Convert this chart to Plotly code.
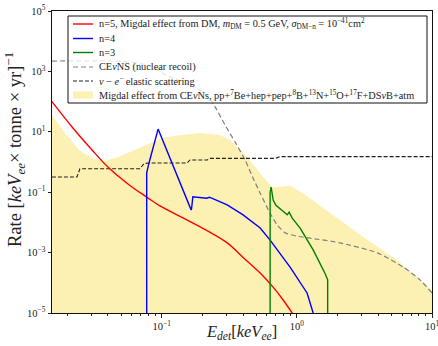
import plotly.graph_objects as go

# ---------------- data ----------------
# n=5 Migdal effect from DM (red)
red_E = [0.0154, 0.0217, 0.0305, 0.0407, 0.0575, 0.0774, 0.097, 0.1705, 0.305, 0.40, 0.535, 0.667, 0.792, 0.923, 1.05]
red_R = [1.0e2, 1.45e1, 2.5, 0.63, 0.174, 0.069, 0.035, 9.5e-3, 2.1e-3, 6.9e-4, 2.1e-4, 7.2e-5, 2.7e-5, 1.0e-5, 4.0e-6]

# n=4 (blue)
blue_E = [0.0774, 0.0774, 0.0805, 0.094, 0.165, 0.1662, 0.170, 0.215, 0.225, 0.232, 0.305, 0.40, 0.535, 0.634, 0.891, 1.19, 1.32, 1.40]
blue_R = [1e-7, 0.44, 0.93, 12.3, 0.026, 0.028, 0.071, 0.063, 0.068, 0.065, 0.038, 0.0178, 6.5e-3, 2.6e-3, 3.3e-4, 4.6e-5, 1.0e-5, 3.0e-6]

# n=3 (green)
green_E = [0.634, 0.634, 0.645, 0.668, 0.70, 0.77, 0.849, 0.877, 0.924, 1.057, 1.32, 1.62, 1.69, 1.69]
green_R = [1e-7, 0.10, 0.148, 0.055, 0.037, 0.026, 0.0178, 0.0219, 0.0138, 6.5e-3, 1.23e-3, 2.0e-4, 1.26e-4, 1e-7]

# CEvNS nuclear recoil (grey dashed)
cevns_E = [0.0154, 0.05, 0.08, 0.11, 0.15, 0.185, 0.217, 0.25, 0.294, 0.35, 0.414, 0.47, 0.535, 0.634, 0.72, 0.82, 1.0, 1.26, 2.09, 3.94, 6.13, 8.19, 10.0]
cevns_R = [2.2e3, 2.15e3, 1.6e3, 7.1e2, 4.2e2, 2.6e2, 1.6e2, 63.0, 16.8, 4.5, 1.16, 0.32, 0.093, 0.020, 7.9e-3, 4.5e-3, 3.5e-3, 3.0e-3, 2.1e-3, 9.8e-4, 3.3e-4, 1.23e-4, 4.6e-5]

# nu - e elastic scattering (black dashed)
nue_E = [0.0154, 0.0236, 0.0248, 0.069, 0.074, 0.082, 0.154, 0.162, 0.217, 0.228, 0.692, 0.752, 10.0]
nue_R = [0.32, 0.32, 0.60, 0.60, 0.89, 0.93, 0.93, 1.17, 1.17, 1.32, 1.32, 1.51, 1.51]

# Migdal effect from CEvNS (yellow band)
migdal_E = [0.0154, 0.0192, 0.0244, 0.0305, 0.038, 0.0483, 0.068, 0.0848, 0.10, 0.13, 0.192, 0.27, 0.321, 0.428, 0.562, 0.656, 0.714, 0.891, 1.11, 1.77, 3.10, 5.53, 10.0]
migdal_R = [36.0, 9.1, 2.5, 1.35, 1.07, 1.48, 2.9, 4.6, 6.2, 7.6, 9.1, 7.8, 5.4, 1.48, 0.32, 0.148, 0.148, 0.162, 0.093, 0.020, 3.3e-3, 5.6e-4, 5.8e-5]

legend_labels = [
    "n=5, Migdal effect from DM, <i>m</i><sub>DM</sub> = 0.5 GeV, <i>σ</i><sub>DM−n</sub> = 10<sup>−41</sup>cm<sup>2</sup>",
    "n=4",
    "n=3",
    "CE<i>ν</i>NS (nuclear recoil)",
    "<i>ν</i> − <i>e</i><sup>−</sup> elastic scattering",
    "Migdal effect from CE<i>ν</i>Ns, pp+<sup>7</sup>Be+hep+pep+<sup>8</sup>B+<sup>13</sup>N+<sup>15</sup>O+<sup>17</sup>F+DS<i>ν</i>B+atm",
]
x_tickvals = [0.1, 1, 10]
x_ticktext = ["10<sup>−1</sup>", "10<sup>0</sup>", "10<sup>1</sup>"]
y_tickvals = [1e5, 1e3, 1e1, 1e-1, 1e-3, 1e-5]
y_ticktext = ["10<sup>5</sup>", "10<sup>3</sup>", "10<sup>1</sup>", "10<sup>−1</sup>", "10<sup>−3</sup>", "10<sup>−5</sup>"]

# ---------------- styles ----------------
YELLOW = "#FDF0B3"
FONT = "Liberation Serif"
floor = 1e-7

fig = go.Figure()

fig.add_trace(go.Scatter(
    x=migdal_E + migdal_E[::-1], y=migdal_R + [floor] * len(migdal_E),
    fill="toself", fillcolor=YELLOW, line=dict(width=0), mode="lines",
    hoverinfo="skip", showlegend=False))
fig.add_trace(go.Scatter(x=cevns_E, y=cevns_R, mode="lines", line_shape="spline",
                         line=dict(color="#808080", width=1.2, dash="5px,3px", smoothing=0.6), showlegend=False))
fig.add_trace(go.Scatter(x=nue_E, y=nue_R, mode="lines",
                         line=dict(color="#222222", width=1.1, dash="4px,2px"), showlegend=False))
fig.add_trace(go.Scatter(x=red_E, y=red_R, mode="lines", line_shape="spline",
                         line=dict(color="#ff0000", width=1.4), showlegend=False))
fig.add_trace(go.Scatter(x=blue_E, y=blue_R, mode="lines",
                         line=dict(color="#0000ff", width=1.4), showlegend=False))
fig.add_trace(go.Scatter(x=green_E, y=green_R, mode="lines",
                         line=dict(color="#008000", width=1.4), showlegend=False))

# ---------------- custom legend (pixel-matched) ----------------
W, H = 438, 346
L, R, T, B = 52, 6, 11, 33
PW, PH = W - L - R, H - T - B

def px(xp):
    return (xp - L) / PW

def py(yp):
    return 1 - (yp - T) / PH

shapes = [dict(type="rect", xref="paper", yref="paper", x0=px(68), x1=px(427), y0=py(103), y1=py(16),
               fillcolor="rgba(255,255,255,0.8)", line=dict(color="#111111", width=1), layer="above")]
row_y = [24, 38.5, 52.5, 67, 81, 95]
samples = [("#ff0000", "solid", 1.4), ("#0000ff", "solid", 1.4), ("#008000", "solid", 1.4),
           ("#808080", "5px,3px", 1.2), ("#222222", "4px,2px", 1.1)]
for (c, d, w), yy in zip(samples, row_y[:5]):
    shapes.append(dict(type="line", xref="paper", yref="paper", x0=px(73), x1=px(93), y0=py(yy), y1=py(yy),
                       line=dict(color=c, width=w, dash=d), layer="above"))
shapes.append(dict(type="rect", xref="paper", yref="paper", x0=px(73), x1=px(93), y0=py(row_y[5] + 3.5),
                   y1=py(row_y[5] - 3.5), fillcolor=YELLOW, line=dict(width=0), layer="above"))

annotations = []
for lab, yy in zip(legend_labels, row_y):
    annotations.append(dict(text=lab, xref="paper", yref="paper", x=px(97), y=py(yy), xanchor="left",
                            yanchor="middle", showarrow=False, font=dict(family=FONT, size=10.3, color="#222")))
annotations.append(dict(text="Rate [<i>keV</i><sub><i>ee</i></sub>× tonne × yr]<sup>−1</sup>", xref="paper",
                        yref="paper", x=px(14), y=py(150), textangle=-90, showarrow=False,
                        xanchor="center", yanchor="middle", font=dict(family=FONT, size=18.5, color="#222")))
annotations.append(dict(text="<i>E</i><sub><i>det</i></sub>[<i>keV</i><sub><i>ee</i></sub>]", xref="paper",
                        yref="paper", x=px(241), y=py(320), showarrow=False,
                        xanchor="center", yanchor="top", font=dict(family=FONT, size=16.5, color="#222")))

minor_x = [m * 10 ** e for e in (-2, -1, 0) for m in range(2, 10)]

fig.update_layout(
    width=W, height=H, margin=dict(l=L, r=R, t=T, b=B, autoexpand=False),
    paper_bgcolor="white", plot_bgcolor="white",
    shapes=shapes, annotations=annotations, showlegend=False,
    font=dict(family=FONT, color="#222"),
    xaxis=dict(type="log", range=[-1.812, 1.0], tickvals=x_tickvals, ticktext=x_ticktext, automargin=False,
               ticks="outside", ticklen=3.5, tickwidth=0.8, tickcolor="#222", showgrid=False, zeroline=False,
               showline=True, linecolor="#111", linewidth=1, mirror=True, tickfont=dict(size=10.5),
               ticklabeloverflow="allow",
               minor=dict(tickvals=minor_x, ticks="outside", ticklen=2, tickwidth=0.6, tickcolor="#222")),
    yaxis=dict(type="log", range=[-5, 5], tickvals=y_tickvals, ticktext=y_ticktext, automargin=False,
               ticks="outside", ticklen=3.5, tickwidth=0.8, tickcolor="#222", showgrid=False, zeroline=False,
               showline=True, linecolor="#111", linewidth=1, mirror=True, tickfont=dict(size=10.5)),
)

fig.write_html("out.html", config={"displayModeBar": False},
               post_script="document.body.style.margin='0';document.body.style.overflow='hidden';")
